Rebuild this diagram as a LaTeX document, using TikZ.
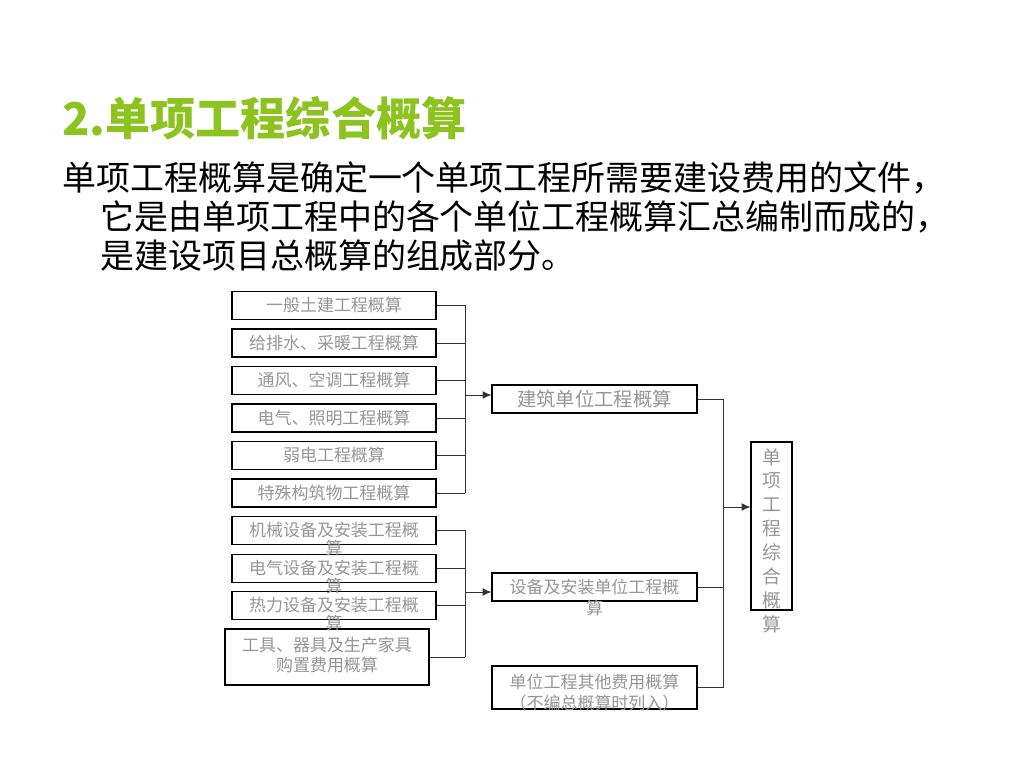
\documentclass[tikz,border=0pt]{standalone}
\usepackage{fontspec}
\setmainfont{Noto Sans CJK SC}
\usetikzlibrary{arrows.meta}
\definecolor{titlegreen}{RGB}{140,195,30}
\definecolor{boxgray}{RGB}{150,150,150}

\begin{document}
\begin{tikzpicture}[
  x=0.03cm, y=-0.03cm,
  box/.style={draw, line width=0.9pt, minimum width=6.12cm, minimum height=0.84cm, inner sep=0pt, text=boxgray, font=\fontsize{14.5}{17}\selectfont},
  lbl/.style={text=boxgray, align=center, inner sep=0pt, font=\fontsize{14.5}{16}\selectfont},
  link/.style={line width=0.7pt, draw=black!80},
  arr/.style={link, -{Latex[length=7.5pt,width=6.5pt]}}
]
  \useasboundingbox[fill=white] (0,0) rectangle (1024,768);
  \node[anchor=west, inner sep=0pt, text=titlegreen, font=\fontsize{38.5}{44}\selectfont\bfseries] (title) at (62,118) {2.单项工程综合概算};
  \node[anchor=west, inner sep=0pt, font=\fontsize{29}{35}\selectfont] (t1) at (62,178) {单项工程概算是确定一个单项工程所需要建设费用的文件，};
  \node[anchor=west, inner sep=0pt, font=\fontsize{29}{35}\selectfont] (t2) at (100,217) {它是由单项工程中的各个单位工程概算汇总编制而成的，};
  \node[anchor=west, inner sep=0pt, font=\fontsize{29}{35}\selectfont] (t3) at (100,256) {是建设项目总概算的组成部分。};

  \node[box] (b1) at (334,305.5) {一般土建工程概算};
  \node[box] (b2) at (334,343) {给排水、采暖工程概算};
  \node[box] (b3) at (334,380.5) {通风、空调工程概算};
  \node[box] (b4) at (334,418) {电气、照明工程概算};
  \node[box] (b5) at (334,455.5) {弱电工程概算};
  \node[box] (b6) at (334,493) {特殊构筑物工程概算};
  \node[box] (b7) at (334,530.5) {};
  \node[box] (b8) at (334,568.5) {};
  \node[box] (b9) at (334,605.5) {};
  \node[box, minimum height=1.68cm] (b10) at (327,657) {};
  \node[lbl, anchor=north] (l7) at ([yshift=-0.17cm]b7.north) {机械设备及安装工程概\\算};
  \node[lbl, anchor=north] (l8) at ([yshift=-0.17cm]b8.north) {电气设备及安装工程概\\算};
  \node[lbl, anchor=north] (l9) at ([yshift=-0.17cm]b9.north) {热力设备及安装工程概\\算};
  \node[lbl, anchor=north, font=\fontsize{14.5}{17}\selectfont] (l10) at ([yshift=-0.25cm]b10.north) {工具、器具及生产家具\\购置费用概算};

  \node[box, minimum width=6.15cm, font=\fontsize{16.5}{18}\selectfont] (m1) at (594.5,399) {建筑单位工程概算};
  \node[box, minimum width=6.15cm] (m2) at (594.5,587) {};
  \node[box, minimum width=6.15cm, minimum height=1.29cm] (m3) at (594.5,687.5) {};
  \node[lbl, anchor=north, font=\fontsize{14.5}{18}\selectfont] (l2) at ([yshift=-0.2cm]m2.north) {设备及安装单位工程概\\算};
  \node[lbl, anchor=north, font=\fontsize{14.5}{18}\selectfont] (l3) at ([yshift=-0.25cm]m3.north) {单位工程其他费用概算\\（不编总概算时列入）};

  \node[box, minimum width=1.23cm, minimum height=5.04cm] (f) at (771.5,526) {};
  \node[lbl, anchor=north, font=\fontsize{16}{20.4}\selectfont] (lf) at ([yshift=-0.2cm]f.north) {单\\项\\工\\程\\综\\合\\概\\算};

  \coordinate (j1) at (465,395);
  \coordinate (j2) at (465,592);
  \coordinate (j3) at (723,507);

  \foreach \b in {b1,b2,b3,b4,b5,b6,b7,b8,b9,b10}
    \draw[link] (\b.east) -- (\b.east -| j1);
  \draw[link] (b1.east -| j1) -- (b6.east -| j1);
  \draw[link] (b7.east -| j2) -- (b10.east -| j2);
  \draw[arr] (j1) -- (j1 -| m1.west);
  \draw[arr] (j2) -- (j2 -| m2.west);

  \foreach \m in {m1,m2,m3}
    \draw[link] (\m.east) -- (\m.east -| j3);
  \draw[link] (m1.east -| j3) -- (m3.east -| j3);
  \draw[arr] (j3) -- (j3 -| f.west);
\end{tikzpicture}
\end{document}
